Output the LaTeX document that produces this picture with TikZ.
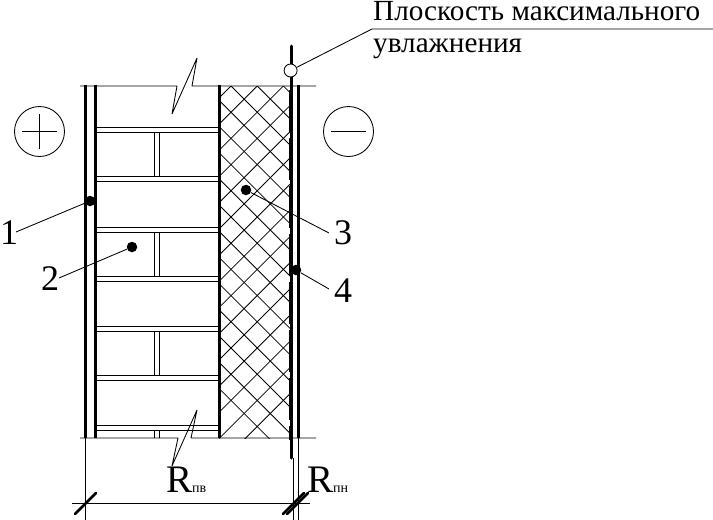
\documentclass[tikz,border=0pt]{standalone}
\usepackage{fontspec}
\setmainfont{Liberation Serif}

\tikzset{
    thin line/.style={line width=.85pt, line join=bevel},
    wall line/.style={line width=3pt},
    dot/.style={circle, fill=black, inner sep=0pt, minimum size=10.5pt},
    sign/.style={circle, draw, line width=.85pt, inner sep=0pt, minimum size=50pt},
    label/.style={inner sep=0pt, anchor=base west, font=\fontsize{36}{36}\selectfont},
    caption/.style={inner sep=0pt, anchor=base west, font=\fontsize{29.2}{29}\selectfont},
    resist/.style={inner sep=0pt, anchor=base west, font=\fontsize{39}{39}\selectfont}
}

\begin{document}
\begin{tikzpicture}[x=1pt, y=-1pt]
    \useasboundingbox (0, 0) rectangle (713, 520);

    % insulation hatch
    \begin{scope}
        \clip (219, 86) rectangle (290, 438);
        \foreach \k in {-12,...,14} {
            \draw[line width=.8pt] (231+26.2*\k, 86)--(231+26.2*\k+360, 446);
            \draw[line width=.8pt] (231+26.2*\k, 86)--(231+26.2*\k-360, 446);
        }
    \end{scope}

    % brick joints
    \foreach \y in {127,176,227,276,326,375,425} {
        \draw[thin line] (95, \y)--(219, \y);
        \draw[thin line] (95, \y+5)--(219, \y+5);
    }
    \foreach \y/\h in {132/176,232/276,331/375,430/438} {
        \draw[thin line] (154.5, \y)--(154.5, \h);
        \draw[thin line] (159.5, \y)--(159.5, \h);
    }

    % wall edges with breaks
    \draw[thin line] (80, 86)--(177, 86)--(172, 114)--(197, 58)--(192, 86)--(316, 86);
    \draw[thin line] (80, 438)--(178, 438)--(172, 466)--(197, 410)--(191, 438)--(316, 438);

    \draw[wall line] (85.5, 85)--(85.5, 438);
    \draw[wall line] (95.5, 85)--(95.5, 438);
    \draw[wall line] (219.5, 85)--(219.5, 438);
    \draw[wall line] (298, 85)--(298, 438);
    \draw[wall line, line cap=round] (291.5, 46)--(291.5, 458);
    \draw[line width=1.5pt, dash pattern=on 42pt off 6pt] (289.5, 90)--(289.5, 440);

    % dimension
    \draw[thin line] (85.5, 438)--(85.5, 520);
    \draw[thin line] (293.5, 458)--(293.5, 520);
    \draw[thin line] (298, 438)--(298, 520);
    \draw[thin line] (72, 503)--(310, 503);
    \draw[wall line, line width=2.6pt, line cap=round] (75, 514)--(96, 493);
    \draw[wall line, line width=2.6pt, line cap=round] (283, 514)--(304, 493);
    \draw[wall line, line width=2.6pt, line cap=round] (287, 514)--(308, 493);

    \node[sign] (plus) at (39.5, 131.5) {};
    \node[sign] (minus) at (348.5, 131.5) {};
    \draw[thin line] (22, 131.5)--(57, 131.5);
    \draw[thin line] (39.5, 114)--(39.5, 149);
    \draw[thin line] (331, 131.5)--(366, 131.5);

    % leaders
    \node[circle, draw, fill=white, line width=.85pt, inner sep=0pt, minimum size=13pt] (plane) at (290.6, 70.5) {};
    \coordinate (shelf) at (372, 29);
    \coordinate (shelfend) at (713, 29);
    \draw[thin line] (plane)--(shelf)--(shelfend);
    \node[caption] (top) at (373, 20.5) {Плоскость максимального};
    \node[caption] (bottom) at (373, 52) {увлажнения};

    \node[dot] (d1) at (90, 201) {};
    \node[dot] (d2) at (132, 247) {};
    \node[dot] (d3) at (246, 190) {};
    \node[dot] (d4) at (296, 270) {};
    \node[label] (n1) at (0, 244) {1};
    \node[label] (n2) at (41, 290) {2};
    \node[label] (n3) at (334, 244.5) {3};
    \node[label] (n4) at (334, 302) {4};
    \coordinate (e1) at (16, 232);
    \coordinate (e2) at (59, 278);
    \coordinate (e3) at (329, 233);
    \coordinate (e4) at (329, 289);
    \draw[thin line] (e1)--(d1);
    \draw[thin line] (e2)--(d2);
    \draw[thin line] (e3)--(d3);
    \draw[thin line] (e4)--(d4);

    \node[resist] (rin) at (166, 492.5) {R{\fontsize{14}{14}\selectfont пв}};
    \node[resist] (rout) at (307, 492.5) {R{\fontsize{14}{14}\selectfont пн}};
\end{tikzpicture}
\end{document}
